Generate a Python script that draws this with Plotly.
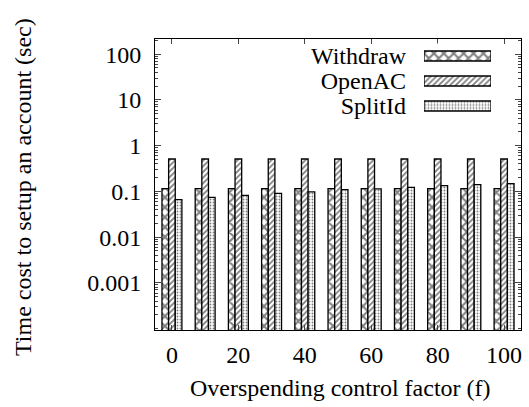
import plotly.graph_objects as go

factors = [0, 10, 20, 30, 40, 50, 60, 70, 80, 90, 100]
withdraw = [0.115, 0.115, 0.115, 0.115, 0.115, 0.115, 0.115, 0.115, 0.115, 0.115, 0.115]
openac = [0.51, 0.51, 0.51, 0.51, 0.51, 0.51, 0.51, 0.51, 0.51, 0.51, 0.51]
splitid = [0.066, 0.074, 0.082, 0.09, 0.097, 0.109, 0.113, 0.122, 0.133, 0.14, 0.148]
series_names = ["Withdraw", "OpenAC", "SplitId"]
ytick_vals = [0.001, 0.01, 0.1, 1, 10, 100]
ytick_text = ["0.001", "0.01", "0.1", "1", "10", "100"]
xtick_vals = [0, 20, 40, 60, 80, 100]

FONT = "Liberation Serif"
FS = 24
patterns = [
    dict(shape="x", size=7, solidity=0.5, fgcolor="black", bgcolor="white"),
    dict(shape="/", size=4, solidity=0.45, fgcolor="black", bgcolor="white"),
    dict(shape=".", size=3, solidity=0.3, fgcolor="black", bgcolor="white"),
]

W, H = 529, 407
L, R, T, B = 155, 8, 39, 77
pw, ph = W - L - R, H - T - B


def px(x):
    return (x - L) / pw


def py(y):
    return 1 - (y - T) / ph


fig = go.Figure()
for name, vals, pat in zip(series_names, [withdraw, openac, splitid], patterns):
    fig.add_trace(go.Bar(
        x=factors, y=vals, name=name, showlegend=False,
        marker=dict(color="white", pattern=pat, line=dict(color="black", width=1.3)),
    ))

# gnuplot-style key: names on the left, pattern box on the right
for name, pat in zip(series_names, patterns):
    fig.add_trace(go.Bar(
        x=[1], y=[name], orientation="h", xaxis="x2", yaxis="y2",
        showlegend=False, width=0.4, hoverinfo="skip",
        marker=dict(color="white", pattern=pat, line=dict(color="black", width=1.3)),
    ))

fig.update_layout(
    width=W, height=H,
    margin=dict(l=L, r=R, t=T, b=B),
    paper_bgcolor="white", plot_bgcolor="white",
    barmode="group", bargap=0.4, bargroupgap=0,
    font=dict(family=FONT, size=FS, color="black"),
    xaxis=dict(
        range=[-5.1, 105.1], tickvals=xtick_vals, ticks="inside", ticklen=5,
        showline=True, linecolor="black", linewidth=1, mirror="ticks",
        showgrid=False, zeroline=False, ticklabelstandoff=3,
        tickfont=dict(family=FONT, size=FS),
    ),
    yaxis=dict(
        type="log", range=[-4.03, 2.33], tickvals=ytick_vals, ticktext=ytick_text,
        ticks="inside", ticklen=6, showline=True, linecolor="black", linewidth=1,
        mirror="ticks", showgrid=False, zeroline=False, ticklabelstandoff=8,
        tickfont=dict(family=FONT, size=FS),
        minor=dict(ticks="inside", ticklen=3, dtick="D1", showgrid=False),
    ),
    xaxis2=dict(domain=[px(424), px(491)], anchor="y2", range=[0, 1], visible=False),
    yaxis2=dict(
        domain=[py(118.5), py(43.5)], anchor="x2", type="category",
        categoryorder="array", categoryarray=series_names[::-1],
        tickmode="array", tickvals=series_names, ticktext=series_names,
        showline=False, showgrid=False, zeroline=False, ticks="",
        ticklabelstandoff=17, tickfont=dict(family=FONT, size=FS),
    ),
    annotations=[
        dict(text="Time cost to setup an account (sec)", x=px(23), y=py(187),
             xref="paper", yref="paper", xanchor="center", yanchor="middle",
             showarrow=False, textangle=-90, font=dict(family=FONT, size=FS)),
        dict(text="Overspending control factor (f)", x=px(340), y=py(388),
             xref="paper", yref="paper", xanchor="center", yanchor="middle",
             showarrow=False, font=dict(family=FONT, size=FS)),
    ],
)

fig.write_html("out.html", config={"displayModeBar": False},
               post_script="document.body.style.margin='0';")
